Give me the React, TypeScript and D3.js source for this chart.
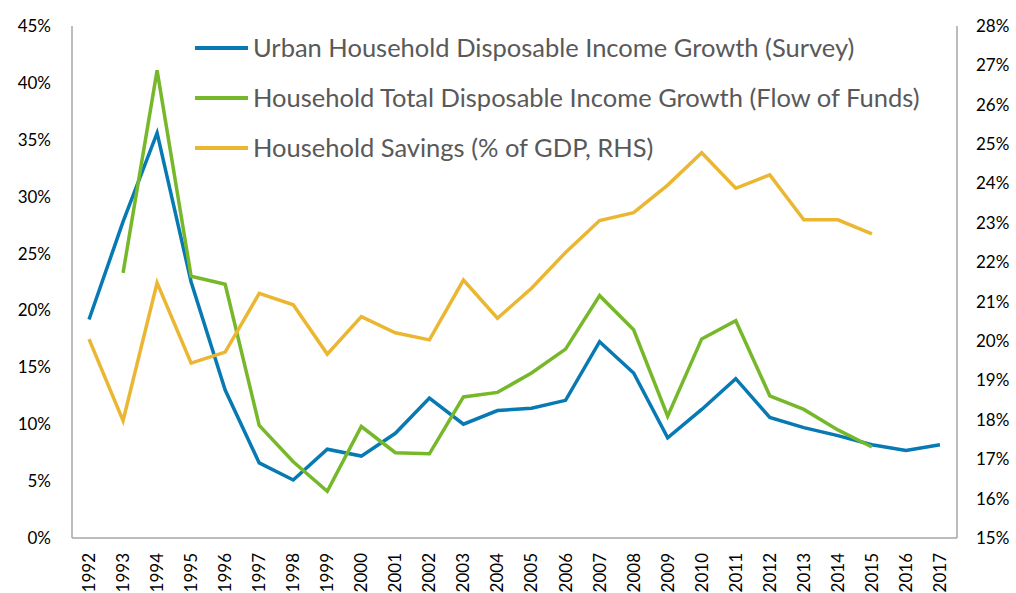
import React from 'react';
import * as d3 from 'd3';

const years = ['1992','1993','1994','1995','1996','1997','1998','1999','2000','2001','2002','2003','2004','2005','2006','2007','2008','2009','2010','2011','2012','2013','2014','2015','2016','2017'];

// left axis, % growth
const urbanGrowth = [19.2, 27.8, 35.6, 22.5, 13.0, 6.6, 5.1, 7.8, 7.2, 9.2, 12.3, 10.0, 11.2, 11.4, 12.1, 17.25, 14.5, 8.8, 11.3, 14.0, 10.6, 9.7, 9.0, 8.2, 7.7, 8.2];
const totalGrowth = [null, 23.3, 41.1, 23.0, 22.3, 9.9, 6.7, 4.1, 9.8, 7.5, 7.4, 12.4, 12.8, 14.5, 16.6, 21.3, 18.3, 10.7, 17.5, 19.1, 12.5, 11.3, 9.5, 8.0, null, null];
// right axis, % of GDP
const savings = [20.05, 17.98, 21.48, 19.44, 19.72, 21.21, 20.92, 19.67, 20.62, 20.21, 20.03, 21.55, 20.58, 21.34, 22.25, 23.06, 23.26, 23.96, 24.78, 23.88, 24.22, 23.08, 23.08, 22.72, null, null];

const leftTicks = [0, 5, 10, 15, 20, 25, 30, 35, 40, 45];
const rightTicks = [15, 16, 17, 18, 19, 20, 21, 22, 23, 24, 25, 26, 27, 28];

const seriesNames = [
  'Urban Household Disposable Income Growth (Survey)',
  'Household Total Disposable Income Growth (Flow of Funds)',
  'Household Savings (% of GDP, RHS)',
];
const colors = ['#0779b3', '#76b82a', '#ebb732'];

const W = 1016, H = 593;
const plot = { left: 72, right: 957, top: 26, bottom: 538 };
const font = "'Source Sans Pro', Lato, 'Open Sans', sans-serif";

export default function App() {
  const x = d3.scalePoint<string>().domain(years).range([plot.left, plot.right]).padding(0.5);
  const yL = d3.scaleLinear().domain([0, 45]).range([plot.bottom, plot.top]);
  const yR = d3.scaleLinear().domain([15, 28]).range([plot.bottom, plot.top]);

  const mkLine = (y: d3.ScaleLinear<number, number>) =>
    d3.line<number | null>()
      .defined(d => d != null)
      .x((_, i) => x(years[i]) as number)
      .y(d => y(d as number));

  const lines = [
    mkLine(yL)(urbanGrowth),
    mkLine(yL)(totalGrowth),
    mkLine(yR)(savings),
  ];

  const axisColor = '#a6a6a6';

  return (
    <svg width={W} height={H} style={{ position: 'absolute', left: 0, top: 0, background: '#fff' }}>
      <line x1={plot.left} x2={plot.left} y1={plot.top} y2={plot.bottom} stroke={axisColor} strokeWidth={1.5} />
      <line x1={plot.right} x2={plot.right} y1={plot.top} y2={plot.bottom} stroke={axisColor} strokeWidth={1.5} />
      <line x1={plot.left} x2={plot.right} y1={plot.bottom} y2={plot.bottom} stroke={axisColor} strokeWidth={1.5} />

      {leftTicks.map(t => (
        <text key={'l' + t} x={51} y={yL(t)} dy="0.35em" textAnchor="end" fontFamily={font} fontSize={17} fill="#000">{t}%</text>
      ))}
      {rightTicks.map(t => (
        <text key={'r' + t} x={976} y={yR(t)} dy="0.35em" textAnchor="start" fontFamily={font} fontSize={17} fill="#000">{t}%</text>
      ))}
      {years.map(yr => (
        <text key={yr} transform={`translate(${x(yr)},553) rotate(-90)`} dy="0.35em" textAnchor="end" fontFamily={font} fontSize={17} fill="#000">{yr}</text>
      ))}

      {lines.map((d, i) => (
        <path key={i} d={d || ''} fill="none" stroke={colors[i]} strokeWidth={3.5} strokeLinejoin="miter" />
      ))}

      {seriesNames.map((name, i) => (
        <g key={name} transform={`translate(195,${48 + i * 50})`}>
          <line x1={0} x2={53} y1={0} y2={0} stroke={colors[i]} strokeWidth={4} />
          <text x={58} y={0} dy="0.35em" fontFamily={font} fontSize={25.5} fill="#595959">{name}</text>
        </g>
      ))}
    </svg>
  );
}
